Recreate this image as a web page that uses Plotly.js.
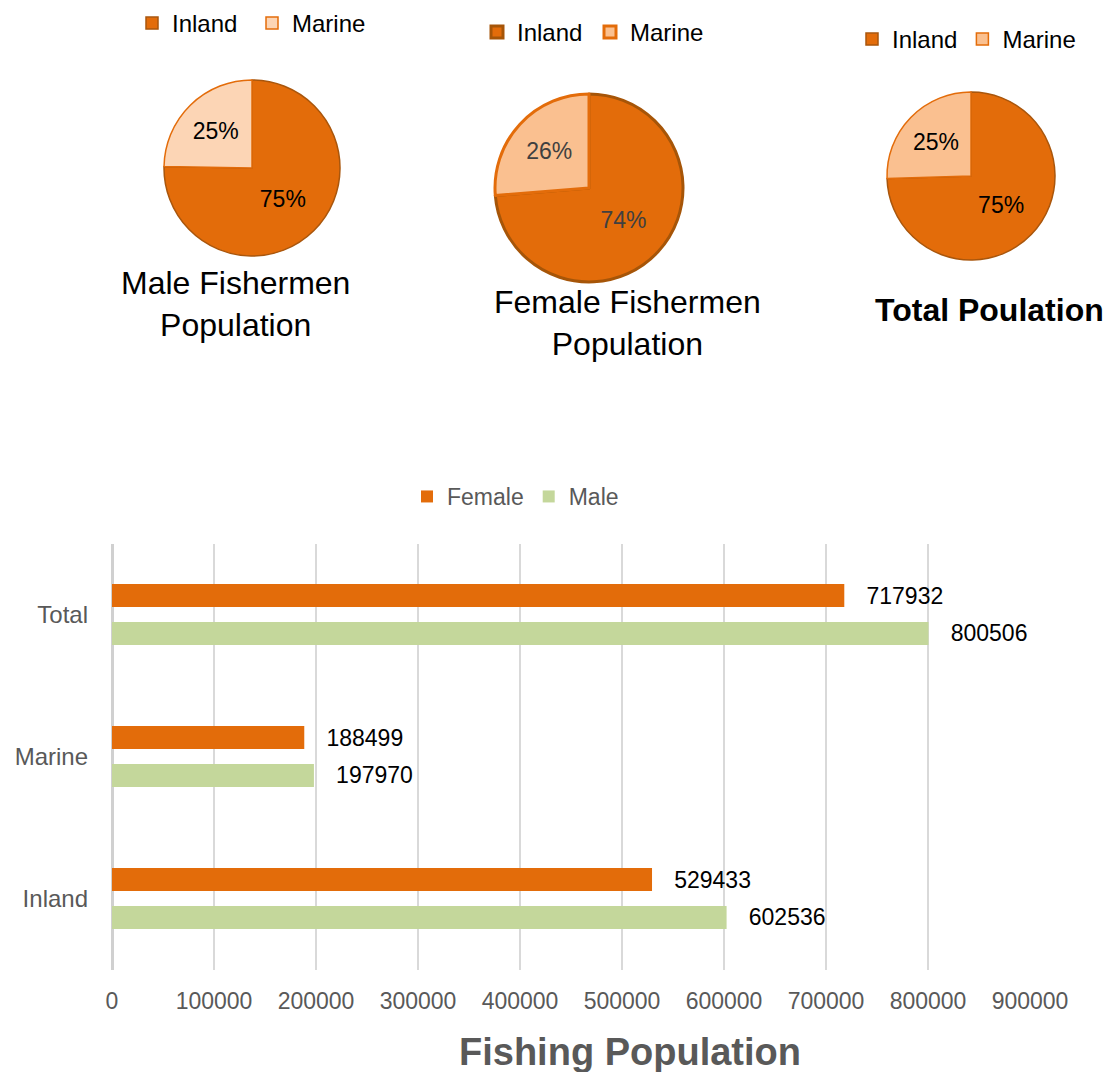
<!DOCTYPE html>
<html>
<head>
<meta charset="utf-8">
<script src="https://cdn.plot.ly/plotly-3.0.1.min.js"></script>
<style>html,body{margin:0;padding:0;background:#fff;}#chart{width:1107px;height:1072px;}</style>
</head>
<body>
<div id="chart"></div>
<script>
// Data
var categories = ['Inland', 'Marine', 'Total'];
var femaleValues = [529433, 188499, 717932];
var maleValues = [602536, 197970, 800506];
var pieLabels = ['Inland', 'Marine'];
var malePie = [602536, 197970];
var femalePie = [529433, 188499];
var totalPie = [602536 + 529433, 197970 + 188499];
var xTicks = [0, 100000, 200000, 300000, 400000, 500000, 600000, 700000, 800000, 900000];

var FONT = 'Liberation Sans, Arial, Helvetica, sans-serif';
var ORANGE = '#E36C0A';
var GREEN = '#C4D79B';
var GRAY = '#595959';

// each pie keeps its own legend, so its labels get a distinct invisible suffix
function pie(values, dom, marineColor, lineColors, lineW, txtColor, legendId, suffix) {
  return {
    type: 'pie', labels: pieLabels.map(function (l) { return l + suffix; }), values: values,
    sort: false, direction: 'clockwise',
    domain: dom, legend: legendId,
    marker: {colors: [ORANGE, marineColor], line: {color: lineColors, width: lineW}},
    texttemplate: '%{percent:.0%}', textposition: 'inside', insidetextorientation: 'horizontal',
    textfont: {family: FONT, size: 23, color: txtColor}, hoverinfo: 'label+value+percent'
  };
}

var W = 1107, H = 1072;
function dx(a, b) { return [a / W, b / W]; }
function dy(top, bottom) { return [1 - bottom / H, 1 - top / H]; }

var traces = [
  pie(malePie, {x: dx(164, 340), y: dy(80, 256)}, '#FCD5B5', ['#A9560C', ORANGE], 1.5, '#000000', 'legend2', ''),
  pie(femalePie, {x: dx(495, 683), y: dy(94, 282)}, '#FAC090', ['#A65508', ORANGE], 3, '#404040', 'legend3', '\u200b'),
  pie(totalPie, {x: dx(887, 1055), y: dy(92, 260)}, '#FAC090', ['#A9560C', ORANGE], 1.5, '#000000', 'legend4', '\u200b\u200b'),
  {
    type: 'bar', orientation: 'h', name: 'Male', y: categories, x: maleValues,
    marker: {color: GREEN}, legendrank: 2,
    texttemplate: '\u00a0\u00a0\u00a0%{x:d}', textposition: 'outside', cliponaxis: false, constraintext: 'none',
    textfont: {family: FONT, size: 23, color: '#000000'}
  },
  {
    type: 'bar', orientation: 'h', name: 'Female', y: categories, x: femaleValues,
    marker: {color: ORANGE}, legendrank: 1,
    texttemplate: '\u00a0\u00a0\u00a0%{x:d}', textposition: 'outside', cliponaxis: false, constraintext: 'none',
    textfont: {family: FONT, size: 23, color: '#000000'}
  }
];

var legendBase = {orientation: 'h', xanchor: 'left', yanchor: 'top', bgcolor: 'rgba(0,0,0,0)',
  font: {family: FONT, size: 24, color: '#000000'}, traceorder: 'normal'};

var layout = {
  width: W, height: H,
  margin: {l: 0, r: 0, t: 0, b: 0},
  paper_bgcolor: '#ffffff', plot_bgcolor: '#ffffff',
  font: {family: FONT},
  barmode: 'group', bargap: 0.465, bargroupgap: 0.395,
  xaxis: {
    domain: dx(112, 1030), range: [0, 900000], tickvals: xTicks, ticktext: xTicks.map(String),
    showgrid: true, gridcolor: '#D9D9D9', gridwidth: 2,
    zeroline: true, zerolinecolor: '#D0D0D0', zerolinewidth: 3,
    showline: false, ticks: '', ticklabelstandoff: 15,
    tickfont: {family: FONT, size: 23, color: GRAY}, fixedrange: true
  },
  yaxis: {
    domain: dy(543.5, 969.5), type: 'category', categoryorder: 'array', categoryarray: categories,
    showgrid: false, zeroline: false, showline: false, ticks: '', ticklabelstandoff: 23,
    tickfont: {family: FONT, size: 24, color: GRAY}, fixedrange: true
  },
  showlegend: true,
  legend: Object.assign({}, legendBase, {x: 407 / W, y: 1 - 475 / H, font: {family: FONT, size: 23, color: GRAY}}),
  legend2: Object.assign({}, legendBase, {x: 132 / W, y: 1 - 1 / H, entrywidth: 75}),
  legend3: Object.assign({}, legendBase, {x: 477 / W, y: 1 - 10 / H, entrywidth: 68}),
  legend4: Object.assign({}, legendBase, {x: 852 / W, y: 1 - 17 / H}),
  annotations: [
    {text: 'Male Fishermen<br>Population', xref: 'paper', yref: 'paper', x: 235 / W, y: 1 - 303.5 / H,
      xanchor: 'center', yanchor: 'middle', showarrow: false, font: {family: FONT, size: 32, color: '#000000'}},
    {text: 'Female Fishermen<br>Population', xref: 'paper', yref: 'paper', x: 627 / W, y: 1 - 323.5 / H,
      xanchor: 'center', yanchor: 'middle', showarrow: false, font: {family: FONT, size: 32, color: '#000000'}},
    {text: '<b>Total Poulation</b>', xref: 'paper', yref: 'paper', x: 989 / W, y: 1 - 310 / H,
      xanchor: 'center', yanchor: 'middle', showarrow: false, font: {family: FONT, size: 32, color: '#000000'}},
    {text: '<b>Fishing Population</b>', xref: 'paper', yref: 'paper', x: 630 / W, y: 1 - 1052 / H,
      xanchor: 'center', yanchor: 'middle', showarrow: false, font: {family: FONT, size: 38, color: GRAY}}
  ]
};

Plotly.newPlot('chart', traces, layout, {displayModeBar: false, staticPlot: true});
</script>
</body>
</html>
